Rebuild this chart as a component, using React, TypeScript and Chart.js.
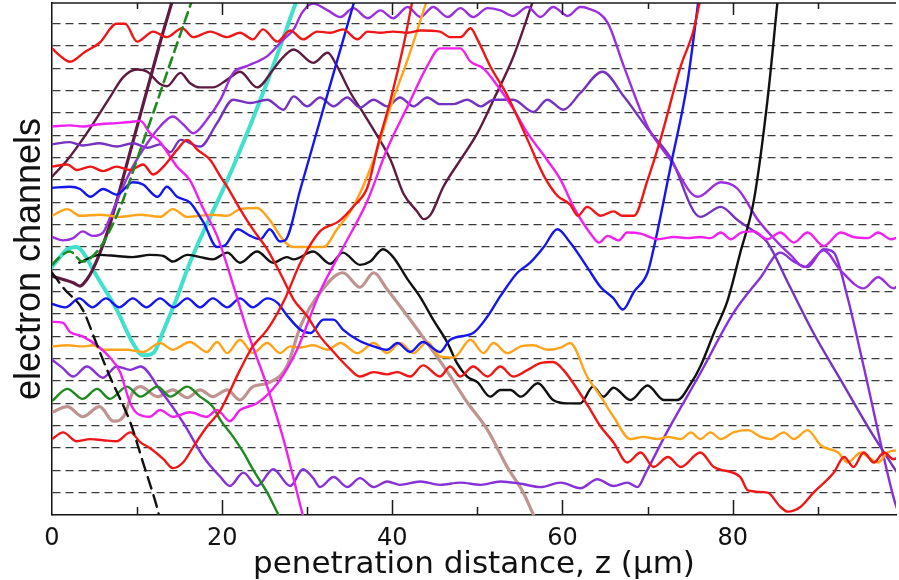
import React, { useEffect, useRef } from 'react';
import { Chart, registerables } from 'chart.js';

Chart.register(...registerables);

type Pt = [number, number];

// ---- axis / tick values ----
const xLabelTicks = [0, 20, 40, 60, 80];
const xMajorMarks = [20, 40, 60, 80];
const xMinorMarks = [10, 30, 50, 70, 90];
const channelLines = [1, 2, 3, 4, 5, 6, 7, 8, 9, 10, 11, 12, 13, 14, 15, 16, 17, 18, 19, 20, 21, 22];

// ---- series (penetration distance z [um], channel index) ----
const redA: Pt[] = [
  [0, 20.9], [1, 20.55], [2.1, 20.3], [3.9, 20.75], [5.6, 21.15], [7.6, 22.0], [8.6, 22.0], [10, 21.2],
  [11.9, 21.65], [13.5, 21.4], [15.3, 21.8], [16.6, 21.4], [18.6, 21.65], [20.6, 21.4], [22.1, 21.6],
  [23.6, 21.3], [24.8, 21.75], [26.5, 21.2], [28, 21.7], [29.5, 21.3], [31.2, 21.65], [32.7, 21.6],
  [34.2, 21.75], [35.9, 21.3], [37.1, 21.65], [38.6, 21.6], [40.1, 21.65], [41.8, 21.6], [43.3, 21.7],
  [45.6, 21.65], [46.8, 21.4], [48, 21.4], [49.2, 21.8], [50, 21.3], [51.5, 20.1], [53.5, 18.8],
  [55.9, 16.8], [57.8, 15.2], [59.4, 14.3], [60.9, 13.9], [61.8, 13.4], [62.9, 13.8], [64.5, 13.4],
  [66, 13.6], [67, 13.4], [68.4, 13.4], [70, 15.0], [71.5, 16.8], [73.9, 20.1], [75.4, 21.7], [76.2, 23.1],
];

const redB: Pt[] = [
  [0, 3.4], [1.3, 3.7], [2.9, 3.3], [4.5, 3.4], [6, 3.35], [7.6, 3.3], [9.2, 3.7], [10.4, 3.25], [11.5, 3.0],
  [13.1, 2.5], [14.2, 2.1], [15.4, 2.35], [16.6, 3.05], [18.2, 3.95], [19.8, 4.7], [22.1, 6.5], [23.6, 7.55],
  [25.3, 8.3], [27.4, 9.7], [29.2, 11.3], [31.5, 12.7], [33.7, 13.15], [35.5, 13.85], [37.1, 14.7],
  [38.4, 16.7], [39.8, 18.6], [41.3, 21.0], [42.4, 23.1],
];

const redC: Pt[] = [
  [0, 15.6], [1.8, 15.7], [2.9, 15.45], [4.5, 15.6], [6, 15.4], [7.6, 15.6], [9.2, 15.45], [10.7, 15.7],
  [11.9, 15.25], [13.1, 15.6], [14.7, 16.35], [15.9, 16.8], [17.1, 16.35], [18.6, 15.9], [19.8, 15.15],
  [20.6, 14.7], [22.1, 13.7], [23.6, 12.8], [25.3, 11.9], [26.8, 10.85], [28.4, 9.65], [30, 8.9], [31.5, 8.0],
  [33.1, 7.3], [34.7, 6.65], [36.2, 6.2], [37.8, 6.4], [39.4, 6.3], [40.6, 6.4], [42.1, 6.2], [43.6, 6.7],
  [45.6, 6.2], [46.8, 6.65], [48, 6.2], [49.5, 6.65], [51.2, 6.2], [52.7, 6.65], [54.2, 6.2], [55.9, 6.5],
  [57.4, 6.8], [58.9, 6.85], [60.1, 6.5], [61.8, 5.6], [63.3, 4.7], [64.5, 3.95], [66, 3.25], [67.6, 2.35],
  [69.2, 2.8], [70.7, 2.15], [72.4, 2.6], [73.9, 2.15], [76.2, 2.8], [77.8, 2.15], [80.9, 1.7], [81.8, 1.1],
  [84.1, 1.0], [85.6, 0.37], [86.5, 0.15], [88, 0.37], [89.5, 1.0], [91.9, 1.9], [93.1, 2.6], [94.2, 2.15],
  [95.4, 2.8], [96.6, 2.35], [97.8, 2.8], [98.9, 2.5], [99.5, 2.6],
];

const magentaA: Pt[] = [
  [0, 17.4], [2.1, 17.45], [3.6, 17.4], [5.6, 17.5], [7.6, 17.55], [9.2, 17.6], [10.4, 17.65], [11.5, 17.1],
  [12.7, 16.7], [14.7, 15.6], [16.2, 15.0], [17.8, 13.7], [19.4, 12.5], [21.3, 10.3], [22.9, 8.3],
  [25.3, 5.75], [27.2, 3.4], [29.2, 0.4], [29.6, -0.2],
];

const magentaB: Pt[] = [
  [0, 8.65], [1.3, 8.6], [2.1, 8.2], [3.6, 8.0], [5.6, 7.5], [6.8, 7.05], [8, 6.4], [9.2, 5.0], [10, 4.55],
  [11.5, 4.4], [12.7, 4.7], [14.2, 4.4], [16.2, 4.6], [18.2, 4.4], [19.4, 4.7], [20.9, 4.2], [22.1, 4.7],
  [24.1, 5.0], [26.5, 5.9], [28.8, 7.4], [31.5, 10.0], [34.1, 11.9], [37.1, 14.1], [39.4, 16.4], [41.8, 18.3],
  [44.1, 20.1], [45.6, 20.9], [48.0, 20.9], [49.2, 20.3], [50.7, 20.0], [52.4, 19.2], [54.2, 18.2],
  [55.9, 17.1], [58.2, 15.9], [59.8, 15.0], [61.3, 13.8], [63.3, 12.6], [64.3, 12.2], [65.3, 12.5],
  [66.6, 12.3], [67.6, 12.65], [69.2, 12.6], [71.2, 12.35], [73.1, 12.45], [74.7, 12.4], [76.2, 12.45],
  [77.4, 12.4], [78.6, 12.65], [79.8, 12.35], [81, 12.65], [82.5, 12.7], [84.1, 12.35], [85.6, 12.65],
  [87.2, 12.2], [88.8, 12.65], [90.7, 12.05], [92.7, 12.65], [94.2, 12.45], [95.9, 12.4], [97.1, 12.65],
  [98.6, 12.35], [99.5, 12.45],
];

const blueA: Pt[] = [
  [0, 14.65], [2.1, 14.7], [3.3, 14.6], [4.5, 14.25], [6, 14.6], [7.6, 14.35], [9.5, 14.9], [10.7, 14.8],
  [12.4, 14.25], [13.5, 14.7], [14.7, 14.25], [16.2, 14.0], [17.8, 13.1], [19.4, 12.0], [20.4, 12.1],
  [21.8, 12.8], [23.3, 12.5], [24.5, 12.35], [25.6, 12.8], [26.8, 12.25], [27.4, 12.3], [29.2, 14.6],
  [32.2, 18.6], [35.6, 23.1],
];

const blueB: Pt[] = [
  [0, 9.45], [1.6, 9.3], [3.2, 9.7], [4.75, 9.3], [6.35, 9.7], [7.9, 9.3], [9.5, 9.7], [11.1, 9.3],
  [12.7, 9.7], [14.3, 9.3], [15.9, 9.7], [17.4, 9.3], [18.9, 9.7], [20.6, 9.3], [22.1, 9.7], [23.6, 9.3],
  [25.3, 9.7], [26.5, 9.5], [27.6, 8.95], [29.2, 8.3], [30.4, 8.15], [31.9, 8.75], [33.1, 8.75],
  [34.2, 8.3], [35.9, 7.85], [37.8, 7.55], [39.4, 7.4], [40.6, 7.7], [42.1, 7.3], [43.6, 7.75], [45.6, 7.3],
  [46.8, 7.85], [49.5, 8.15], [51.2, 8.9], [52.7, 9.8], [54.7, 10.85], [56.2, 11.3], [57.8, 12.0],
  [59.4, 12.8], [60.9, 12.2], [62.9, 11.1], [64.5, 10.2], [66, 9.7], [67.1, 9.2], [68.4, 10.0], [70, 10.85],
  [70.7, 11.9], [72.7, 15.6], [74.7, 19.4], [76, 23.1],
];

const orangeA: Pt[] = [
  [0, 13.4], [1.8, 13.7], [3.3, 13.4], [5.6, 13.45], [8, 13.35], [10.4, 13.45], [12.7, 13.35], [14.2, 13.7],
  [15.9, 13.35], [17.4, 13.4], [18.9, 13.45], [20.6, 13.4], [22.1, 13.7], [24.1, 13.75], [25.6, 13.2],
  [27.2, 12.3], [28.4, 12.0], [31.9, 12.0], [33.5, 12.8], [35.4, 13.8], [37.8, 15.9], [39.8, 18.3],
  [41.8, 20.4], [44.1, 23.1],
];

const orangeB: Pt[] = [
  [0, 7.55], [1.8, 7.6], [3.6, 7.55], [4.8, 7.6], [6, 7.4], [8.8, 7.4], [10.7, 7.3], [12.7, 7.7], [14.2, 7.4],
  [16.2, 7.75], [18.2, 7.3], [19.4, 7.75], [20.6, 7.25], [22.1, 7.85], [23.6, 7.25], [25.3, 7.7], [26.8, 7.25],
  [28, 7.55], [29.2, 7.5], [30.7, 7.6], [32.4, 7.4], [33.9, 7.7], [35.9, 7.25], [37.8, 7.7], [39.4, 7.25],
  [40.9, 7.7], [42.5, 7.25], [44.1, 7.75], [45.6, 7.1], [47.2, 7.05], [49.2, 7.85], [50.7, 7.25], [51.9, 7.7],
  [53.5, 7.25], [55.1, 7.55], [56.6, 7.6], [58.2, 7.4], [59.8, 7.5], [60.9, 7.7], [62.9, 6.2], [64.5, 5.3],
  [66, 4.4], [68, 3.4], [69.5, 3.5], [71.2, 3.4], [72.4, 3.5], [73.9, 3.4], [75.1, 3.7], [76.2, 3.4],
  [77.4, 3.7], [78.6, 3.4], [80.1, 3.7], [81.8, 3.8], [83.3, 3.5], [84.5, 3.4], [86, 3.7], [87.2, 3.4],
  [88.8, 3.8], [90.4, 3.1], [92.4, 2.8], [93.5, 2.35], [95.1, 2.8], [95.9, 2.6], [97.1, 2.35], [98.2, 2.8],
  [99.4, 2.9],
];

const blackSolid: Pt[] = [
  [3.2, 11.3], [5.6, 11.65], [7.6, 11.6], [9.5, 11.55], [11.5, 11.65], [13.1, 11.6], [14.2, 11.35],
  [15.9, 11.65], [17.4, 11.55], [18.9, 11.45], [20.6, 11.75], [22.1, 11.3], [24.1, 11.8], [26, 11.3],
  [27.6, 11.55], [28.4, 11.45], [30.7, 11.8], [32.7, 11.25], [34.2, 11.75], [36.2, 11.2], [37.4, 11.35],
  [38.9, 11.9], [40.1, 11.55], [41.8, 10.55], [43.3, 9.75], [44.8, 8.75], [46.5, 7.7], [47.6, 6.8],
  [48.8, 6.2], [50, 5.95], [51.5, 5.3], [52.7, 5.6], [53.9, 5.6], [55.1, 5.3], [57.1, 5.9], [58.9, 5.15],
  [60.6, 5.0], [62.1, 5.0], [63.6, 5.75], [64.8, 5.3], [66, 5.7], [68, 5.15], [70, 5.8], [71.9, 5.15],
  [73.5, 5.15], [75.1, 5.9], [76.2, 6.65], [77.8, 8.15], [79.4, 9.6], [80.9, 11.75], [82.5, 14.1],
  [84.1, 18.6], [85.3, 23.1],
];

const blackDashed: Pt[] = [
  [0, 10.85], [1.5, 10.1], [3.6, 9.2], [5.2, 7.7], [6.8, 6.2], [9.2, 4.15], [10.7, 2.35], [12.35, 0.33], [12.7, -0.2],
];

const greenSolid: Pt[] = [
  [0, 5.1], [1.8, 5.65], [3.6, 5.2], [5.3, 5.65], [6.8, 5.2], [8.8, 5.75], [10.4, 5.3], [12.4, 5.75],
  [13.9, 5.3], [15.9, 5.75], [17.4, 5.3], [18.9, 4.85], [19.8, 4.25], [21.3, 3.5], [22.5, 2.8],
  [23.6, 2.05], [25.3, 1.0], [26.5, 0.1], [26.9, -0.2],
];

const greenDashed: Pt[] = [
  [0, 11.2], [0.9, 11.55], [2.1, 11.8], [3.6, 11.35], [5.5, 11.9], [7, 12.9], [8.35, 14.1], [9.5, 15.37],
  [10.7, 16.7], [12.35, 18.5], [13.6, 19.9], [15.3, 21.77], [16.5, 23.1],
];

const cyan: Pt[] = [
  [0, 11.1], [0.6, 11.4], [1.8, 11.9], [2.9, 12.0], [4.1, 11.5], [4.8, 11.0], [7.6, 9.2], [9.5, 7.7],
  [10.7, 7.15], [11.9, 7.25], [13.1, 8.25], [14.7, 9.75], [15.9, 11.0], [17.1, 12.1], [21.3, 15.6],
  [25.3, 19.4], [28.8, 23.1],
];

const brown: Pt[] = [
  [0, 4.6], [1.8, 4.85], [3.6, 4.4], [5.6, 4.85], [7.2, 4.2], [8.4, 4.4], [9.5, 5.5], [10.4, 5.75],
  [12.4, 5.3], [14.2, 5.6], [15.9, 5.25], [17.4, 5.6], [18.9, 5.3], [20.6, 5.6], [22.1, 5.15], [23.6, 5.75],
  [25.3, 5.9], [27.6, 6.65], [29.2, 8.45], [31.5, 9.95], [34.2, 10.85], [36.2, 10.2], [37.8, 10.85],
  [39.4, 10.1], [41.8, 8.9], [44.1, 7.7], [46.5, 6.4], [48.8, 5.05], [51.2, 3.8], [53.5, 2.15], [55.4, 1.0],
  [56.6, 0], [57, -0.3],
];

const maroonSteep: Pt[] = [
  [0, 10.7], [1.3, 10.55], [2.5, 10.4], [3.3, 10.25], [4.1, 10.55], [4.8, 11.0], [6.5, 12.65], [9.5, 16.7],
  [12.7, 21.15], [14.2, 23.1],
];

const maroonWavy: Pt[] = [
  [0, 15.15], [1.8, 15.9], [4.1, 17.1], [6.8, 18.7], [8.35, 19.6], [10, 19.95], [11.2, 19.85], [12.7, 19.3],
  [13.5, 19.2], [15.1, 19.8], [16.2, 19.35], [17.4, 19.15], [18.9, 19.15], [20.6, 19.5], [22.1, 19.85],
  [24.1, 19.15], [26, 19.95], [26.8, 20.35], [28.4, 20.85], [30.7, 20.25], [32.4, 20.7], [33.5, 20.1],
  [35.1, 18.9], [36.6, 18.0], [38.2, 17.0], [39.8, 15.9], [41.3, 14.4], [42.9, 13.6], [43.7, 13.25],
  [44.5, 13.45], [46, 14.7], [48, 15.9], [50, 17.1], [51.9, 18.6], [54.2, 20.5], [56.6, 23.1],
];

const violetA: Pt[] = [
  [0, 12.45], [1.3, 12.3], [2.5, 12.4], [3.6, 12.7], [4.8, 12.5], [6, 12.65], [6.8, 13.3], [8, 14.4],
  [9.5, 15.6], [11.2, 16.65], [12.7, 17.4], [14.2, 17.85], [15.4, 17.5], [16.6, 17.1], [18.2, 17.7],
  [19.8, 18.6], [21.3, 19.8], [22.9, 20.1], [24.1, 20.3], [25.3, 20.55], [27.2, 21.3], [28.4, 21.75],
  [29.4, 22.5], [30.7, 22.9], [32.4, 22.6], [33.9, 22.3], [35.4, 22.7], [37.1, 22.25], [38.6, 22.6],
  [40.1, 22.25], [41.8, 22.75], [43.3, 22.3], [44.8, 22.75], [46.5, 22.3], [48, 22.7], [49.5, 22.3],
  [51.2, 22.7], [52.7, 22.6], [54.2, 22.35], [55.9, 22.75], [57.4, 22.3], [58.9, 22.75], [60.6, 22.35],
  [62.1, 22.75], [62.9, 22.7], [65.3, 22.05], [67.2, 20.1], [70, 17.4], [72.7, 15.9], [75.9, 14.25],
  [78.6, 14.9], [80.6, 14.6], [83, 13.2], [85.3, 12.2], [86.8, 11.65], [88.4, 11.1], [90.7, 11.85],
  [92.7, 10.95], [95.4, 10.15], [97.1, 10.65], [98.9, 10.15], [99.5, 10.3],
];

const violetB: Pt[] = [
  [0, 16.6], [2.1, 16.7], [3.6, 16.55], [5.6, 16.65], [7.6, 16.5], [9.5, 16.65], [11.2, 16.45], [12.7, 16.6],
  [13.9, 16.25], [15.1, 16.8], [17.4, 16.5], [19.4, 17.55], [21.3, 18.6], [23.3, 18.45], [25.3, 18.6],
  [27.2, 18.15], [28.4, 18.75], [30, 18.3], [31.5, 18.7], [33.1, 18.3], [34.7, 18.7], [36.2, 18.25],
  [37.8, 18.6], [39.4, 18.3], [40.9, 18.7], [42.5, 18.3], [44.1, 18.7], [45.6, 18.4], [47.2, 18.4],
  [48.8, 18.6], [50.4, 18.3], [51.9, 18.6], [54.2, 18.6], [56.6, 18.05], [58.2, 18.6], [60.1, 18.15],
  [62.1, 18.9], [64.7, 19.85], [67.2, 18.75], [70, 17.3], [72.7, 16.0], [76.2, 13.35], [78.6, 13.8],
  [80.6, 13.2], [82.9, 12.6], [84.1, 12.2], [86.5, 10.4], [89.5, 8.15], [92.7, 6.05], [95.9, 3.95],
  [98.9, 2.15], [99.5, 1.8],
];

const violetC: Pt[] = [
  [0, 6.95], [1.2, 6.6], [2.5, 6.2], [4.1, 6.65], [6, 6.15], [7.6, 6.65], [9.2, 6.5], [10.4, 6.65],
  [12.7, 5.6], [15.4, 4.15], [17.8, 2.6], [19.8, 1.7], [20.9, 1.3], [22.5, 1.9], [24.1, 1.3], [26, 2.05],
  [28, 1.3], [29.5, 2.05], [30.7, 1.65], [31.5, 1.25], [33.1, 1.7], [34.7, 1.25], [36.2, 1.65], [37.8, 1.25],
  [39.4, 1.5], [40.9, 1.35], [43.3, 1.5], [45.6, 1.35], [48, 1.45], [50.4, 1.35], [52.7, 1.5], [55.1, 1.4],
  [57.4, 1.25], [59.8, 1.45], [62.1, 1.2], [64.1, 1.6], [66, 1.3], [67.6, 1.45], [68.8, 1.25], [69.8, 1.9],
  [72.4, 3.8], [76.2, 6.35], [80.1, 9.05], [83.3, 10.65], [85.6, 11.75], [87.2, 11.35], [88.8, 11.1],
  [90.7, 11.9], [91.9, 11.75], [93.5, 9.75], [95.4, 6.65], [98.9, 0.8], [99.4, 0.2],
];

type Series = { data: Pt[]; color: string; width: number; dash?: number[] };

const seriesList: Series[] = [
  { data: blackDashed, color: '#111111', width: 2.4, dash: [12, 7] },
  { data: greenDashed, color: '#1f8a1f', width: 2.6, dash: [10, 6] },
  { data: redA, color: '#f01616', width: 2.4 },
  { data: redB, color: '#f01616', width: 2.4 },
  { data: redC, color: '#f01616', width: 2.4 },
  { data: magentaA, color: '#f020ee', width: 2.4 },
  { data: magentaB, color: '#f020ee', width: 2.4 },
  { data: blueA, color: '#1515ee', width: 2.4 },
  { data: blueB, color: '#1515ee', width: 2.4 },
  { data: orangeA, color: '#ffa31a', width: 2.4 },
  { data: orangeB, color: '#ffa31a', width: 2.4 },
  { data: blackSolid, color: '#111111', width: 2.4 },
  { data: greenSolid, color: '#1f8a1f', width: 2.4 },
  { data: violetA, color: '#9b2fe0', width: 2.4 },
  { data: violetB, color: '#7532c0', width: 2.4 },
  { data: violetC, color: '#8630d8', width: 2.4 },
  { data: maroonWavy, color: '#5e1a40', width: 2.4 },
  { data: maroonSteep, color: '#5e1a40', width: 3.2 },
  { data: brown, color: '#bf9490', width: 3.2 },
  { data: cyan, color: '#40e0cc', width: 4 },
];

const frameTicks = {
  id: 'frameTicks',
  afterDatasetsDraw(chart: any) {
    const { ctx, chartArea, scales } = chart;
    const { left, right, top, bottom } = chartArea;
    const x = scales.x;
    ctx.save();
    ctx.strokeStyle = '#1a1a1a';
    ctx.lineWidth = 1.5;
    ctx.setLineDash([]);
    ctx.beginPath();
    ctx.moveTo(left, top);
    ctx.lineTo(right, top);
    xMajorMarks.forEach((v) => {
      const px = Math.round(x.getPixelForValue(v)) + 0.5;
      ctx.moveTo(px, bottom);
      ctx.lineTo(px, bottom - 15);
      ctx.moveTo(px, top);
      ctx.lineTo(px, top + 12);
    });
    xMinorMarks.forEach((v) => {
      const px = Math.round(x.getPixelForValue(v)) + 0.5;
      ctx.moveTo(px, bottom);
      ctx.lineTo(px, bottom - 8);
      ctx.moveTo(px, top);
      ctx.lineTo(px, top + 6);
    });
    ctx.stroke();
    ctx.restore();
  },
};

export default function App() {
  const canvasRef = useRef<HTMLCanvasElement | null>(null);

  useEffect(() => {
    const canvas = canvasRef.current;
    if (!canvas) return;
    const chart = new Chart(canvas, {
      type: 'line',
      data: {
        datasets: seriesList.map((s, i) => ({
          label: 'ch' + i,
          data: s.data as any,
          borderColor: s.color,
          backgroundColor: s.color,
          borderWidth: s.width,
          borderDash: s.dash ?? [],
          pointRadius: 0,
          pointHoverRadius: 0,
          fill: false,
          cubicInterpolationMode: 'monotone',
          borderCapStyle: 'round',
          borderJoinStyle: 'round',
        })),
      },
      options: {
        animation: false,
        responsive: false,
        events: [],
        layout: { padding: { top: 3, right: 3, left: 0, bottom: 0 } },
        plugins: { legend: { display: false }, tooltip: { enabled: false } },
        scales: {
          x: {
            type: 'linear',
            min: 0,
            max: 99.2,
            afterBuildTicks: (s: any) => {
              s.ticks = xLabelTicks.map((v) => ({ value: v }));
            },
            afterFit: (s: any) => {
              s.height = 65;
            },
            grid: { display: false, drawTicks: false },
            border: { display: true, color: '#111', width: 1.5 },
            ticks: {
              font: { family: '"DejaVu Sans", sans-serif', size: 24 },
              color: '#111',
              padding: 9,
              maxRotation: 0,
              autoSkip: false,
            },
            title: {
              display: true,
              text: 'penetration distance, z (\u03bcm)',
              font: { family: '"DejaVu Sans", sans-serif', size: 31, lineHeight: 1 },
              color: '#111',
              padding: { top: 0, bottom: 0 },
            },
          },
          y: {
            type: 'linear',
            min: 0,
            max: 22.93,
            afterBuildTicks: (s: any) => {
              s.ticks = channelLines.map((v) => ({ value: v }));
            },
            afterFit: (s: any) => {
              s.width = 52;
            },
            grid: { color: '#3a3a3a', lineWidth: 1.2, drawTicks: false },
            border: { display: true, color: '#111', width: 1.5, dash: [8, 5] },
            ticks: { display: false },
            title: {
              display: true,
              text: 'electron channels',
              font: { family: 'Arial, "Liberation Sans", sans-serif', size: 36, lineHeight: 1 },
              color: '#111',
              padding: { top: 12, bottom: 0 },
            },
          },
        },
      } as any,
      plugins: [frameTicks],
    });
    return () => chart.destroy();
  }, []);

  return (
    <div style={{ position: 'fixed', left: 0, top: 0, width: 899, height: 580, background: '#fff' }}>
      <canvas ref={canvasRef} width={899} height={580} style={{ display: 'block' }} />
    </div>
  );
}
